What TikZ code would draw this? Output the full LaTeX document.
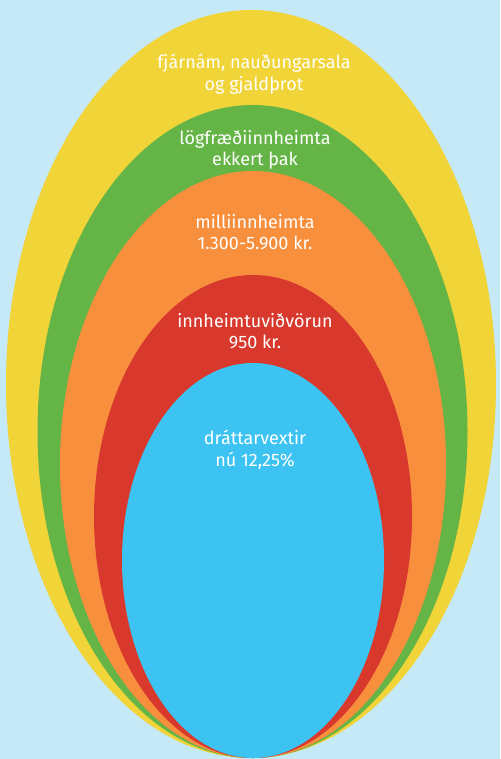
\documentclass[tikz,border=0pt]{standalone}
\usepackage{fontspec}
\setmainfont{Fira Sans}
\usetikzlibrary{shapes.geometric}
\definecolor{bg}{HTML}{C6E9F8}
\definecolor{cyel}{HTML}{F0D438}
\definecolor{cgrn}{HTML}{64B446}
\definecolor{corg}{HTML}{F78F3D}
\definecolor{cred}{HTML}{D9392D}
\definecolor{cblu}{HTML}{3DC3F2}
\tikzset{
  egg/.style={ellipse, inner sep=0pt, outer sep=0pt},
  lbl/.style={text=white, align=center, font=\fontsize{18}{21.5}\selectfont, inner sep=0pt}
}
\begin{document}
\begin{tikzpicture}[x=1pt,y=-1pt]
\fill[bg] (0,0) rectangle (500,759);
\useasboundingbox (0,0) rectangle (500,759);
\node[egg, fill=cyel, minimum width=490pt, minimum height=748pt] (yel) at (251,384) {};
\node[egg, fill=cgrn, minimum width=430pt, minimum height=653pt] (grn) at (252.5,431.5) {};
\node[egg, fill=corg, minimum width=386pt, minimum height=587pt] (org) at (253,464.5) {};
\node[egg, fill=cred, minimum width=318pt, minimum height=483pt] (red) at (253,516.5) {};
\node[egg, fill=cblu, minimum width=262pt, minimum height=395pt] (blu) at (253,560.5) {};
\node[lbl] (tyel) at (254,74) {fjárnám, nauðungarsala\\og gjaldþrot};
\node[lbl] (tgrn) at (255,150) {lögfræðiinnheimta\\ekkert þak};
\node[lbl] (torg) at (255,232) {milliinnheimta\\1.300-5.900 kr.};
\node[lbl] (tred) at (255,331) {innheimtuviðvörun\\950 kr.};
\node[lbl] (tblu) at (255,450) {dráttarvextir\\nú 12,25\%};
\end{tikzpicture}
\end{document}
